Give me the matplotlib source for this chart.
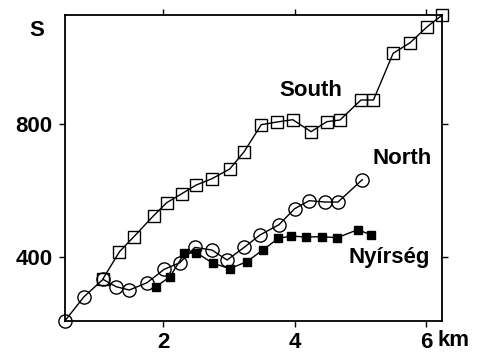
import matplotlib
matplotlib.use("Agg")
import matplotlib.pyplot as plt

plt.rcParams["font.family"] = ["Liberation Sans", "DejaVu Sans"]
plt.rcParams["font.weight"] = "bold"

# ===== Data =====
south_x = [1.08, 1.33, 1.55, 1.85, 2.05, 2.28, 2.50, 2.74, 3.01, 3.23, 3.49,
           3.73, 3.97, 4.25, 4.49, 4.69, 5.01, 5.20, 5.50, 5.76, 6.02, 6.25]
south_y = [336, 417, 462, 525, 564, 591, 617, 636, 665, 717, 798,
           806, 813, 777, 807, 812, 872, 872, 1012, 1044, 1092, 1127]

north_x = [0.50, 0.79, 1.08, 1.28, 1.48, 1.75, 2.01, 2.25, 2.48, 2.74, 2.97,
           3.23, 3.47, 3.76, 4.00, 4.22, 4.46, 4.66, 5.03]
north_y = [210, 282, 334, 312, 302, 324, 364, 384, 430, 422, 392,
           430, 467, 498, 546, 570, 566, 566, 633]

nyir_x = [1.88, 2.10, 2.32, 2.50, 2.75, 3.01, 3.27, 3.52, 3.75, 3.95,
          4.17, 4.42, 4.65, 4.96, 5.16]
nyir_y = [311, 342, 412, 414, 383, 366, 387, 423, 457, 464,
          461, 462, 459, 483, 468]

x_ticks = [2, 4, 6]
x_ticklabels = ["2", "4", "6"]
y_ticks = [400, 800]

# ===== Plot =====
fig = plt.figure(figsize=(4.79, 3.52), dpi=100)
ax = fig.add_axes([0.1357, 0.0889, 0.7864, 0.8685])

# hollow markers so the line shows through them, as in the original
ax.plot(south_x, south_y, color="black", lw=1.0, marker="s", ms=8,
        mfc="none", mec="black", mew=1.0, clip_on=False, zorder=3)
ax.plot(north_x, north_y, color="black", lw=1.0, marker="o", ms=9.5,
        mfc="none", mec="black", mew=1.0, clip_on=False, zorder=3)
ax.plot(nyir_x, nyir_y, color="black", lw=1.0, marker="s", ms=6,
        mfc="black", mec="black", clip_on=False, zorder=4)

ax.set_xlim(0.5, 6.24)
ax.set_ylim(210, 1127)
ax.set_xticks(x_ticks)
ax.set_xticklabels(x_ticklabels)
ax.set_yticks(y_ticks)

ax.tick_params(direction="out", length=4, width=1, labelsize=16,
               top=True, right=True, labeltop=False, labelright=False)
ax.tick_params(axis="y", pad=5)
ax.tick_params(axis="x", pad=4)
for s in ax.spines.values():
    s.set_linewidth(1.3)

# series labels
fig.text(311 / 479, 1 - 91 / 352, "South", fontsize=16, fontweight="bold",
         ha="center", va="center")
fig.text(402 / 479, 1 - 159 / 352, "North", fontsize=16, fontweight="bold",
         ha="center", va="center")
fig.text(389 / 479, 1 - 258 / 352, "Nyírség", fontsize=16, fontweight="bold",
         ha="center", va="center")

# axis labels
fig.text(37 / 479, 1 - 30 / 352, "S", fontsize=16, fontweight="bold",
         ha="center", va="center")
ax.annotate("km", xy=(6, 0), xycoords=("data", "axes fraction"),
            xytext=(8, -7), textcoords="offset points",
            ha="left", va="top", fontsize=16, fontweight="bold")

fig.savefig("out.png", dpi=100)
